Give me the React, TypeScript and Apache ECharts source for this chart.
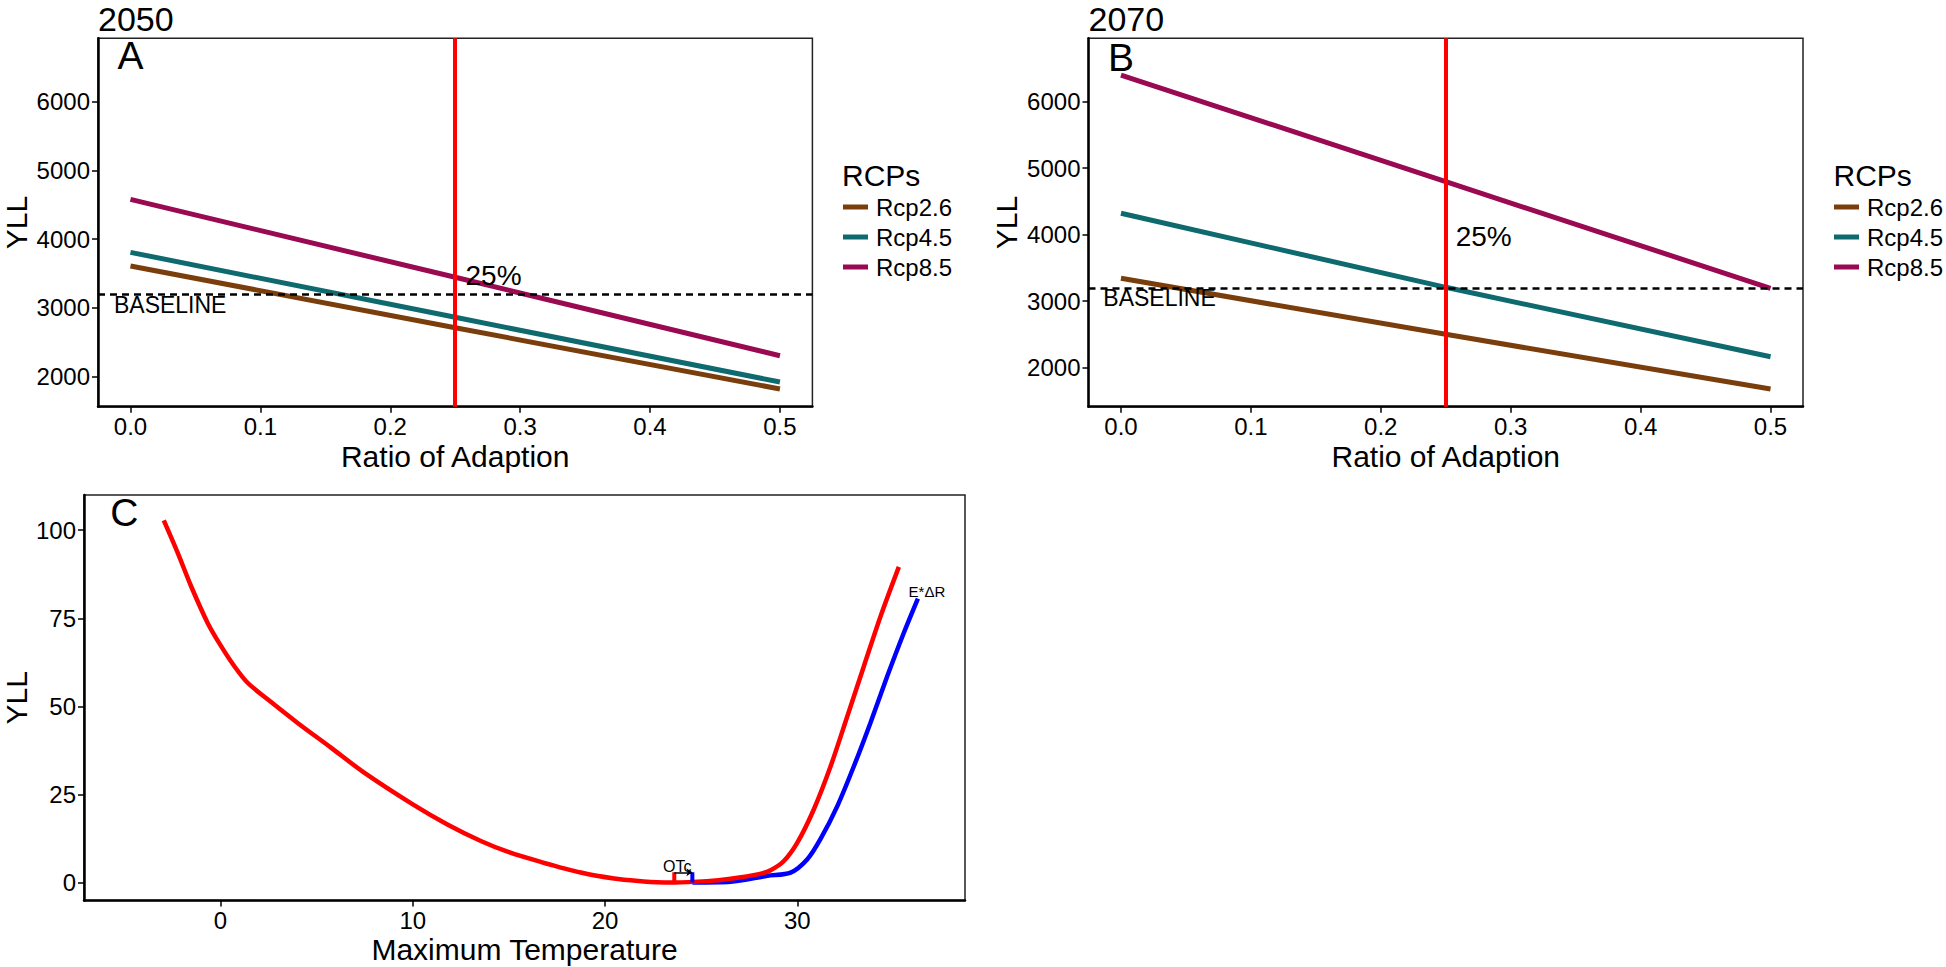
import React, { useEffect, useRef } from "react";
import * as echarts from "echarts";

const FONT = "'Liberation Sans', Arial, Helvetica, sans-serif";

// ---- Panels A / B data ----
const rcpNames = ["Rcp2.6", "Rcp4.5", "Rcp8.5"];
const rcpColors = ["#7A3E0C", "#0E6A6E", "#990A52"];
const adaptionRatio = [0, 0.25, 0.5];
const yll2050Rcp26 = [3610, 2713, 1821];
const yll2050Rcp45 = [3809, 2864, 1923];
const yll2050Rcp85 = [4580, 3446, 2305];
const yll2070Rcp26 = [3344, 2502, 1680];
const yll2070Rcp45 = [4322, 3209, 2165];
const yll2070Rcp85 = [6401, 4797, 3194];
const adaptionTarget = 0.25;
const baselineYLL = 3200;
const ratioTicks = [0, 0.1, 0.2, 0.3, 0.4, 0.5];
const yllTicksAB = [2000, 3000, 4000, 5000, 6000];
const panelTitles = ["2050", "2070"];

// annotation texts (data coordinates)
const annotTextsA = ["A", "25%", "BASELINE"];
const annotXA = [0, 0.2795, 0.0306];
const annotYA = [6668, 3479, 3043];
const annotTextsB = ["B", "25%", "BASELINE"];
const annotXB = [0, 0.2792, 0.0297];
const annotYB = [6665, 3976, 3044];
const annotSizesAB = [39, 28, 23];

// ---- Panel C data ----
const tempRed = [-2.95, -2.22, -1.53, -0.67, 0.03, 0.72, 1.41, 2.45, 4.01, 5.74, 7.47, 10, 11.8, 13.54, 15.0, 16.66, 18.74, 20.47, 22.0, 22.72, 23.6, 25.3, 26.53, 28.0, 28.61, 29.3, 30.0, 30.86, 31.73, 32.6, 33.46, 34.33, 35.28];
const yllRed = [102.8, 93.5, 84.1, 73.7, 67.1, 61.4, 56.7, 52.0, 45.3, 38.3, 31.2, 22.2, 16.5, 11.8, 8.6, 5.85, 2.83, 1.13, 0.3, 0.05, 0, 0.4, 1.1, 2.4, 3.5, 6.1, 11.3, 20.8, 33.0, 47.2, 61.4, 75.6, 89.6];
const tempBlue = [24.54, 26.53, 28.44, 29.65, 30.52, 31.2, 32.08, 32.94, 33.8, 34.68, 35.54, 36.27];
const yllBlue = [0, 0.2, 1.9, 2.8, 6.6, 12.3, 21.7, 33.0, 45.3, 58.6, 70.9, 80.6];
const otcRed = 23.6;
const otcBlue = 24.54;
const otcHeight = 2.9;
const tempTicks = [0, 10, 20, 30];
const yllTicksC = [0, 25, 50, 75, 100];
const annotTextsC = ["C", "OTc", "E*ΔR"];
const annotXC = [-5.0, 23.75, 36.74];
const annotYC = [104.9, 4.5, 82.65];
const annotSizesC = [39, 16, 15];

function axisBase(gridIndex: number, name: string, nameGap: number, ticks: number[], fmt: (v: number) => string, min: number, max: number) {
  return {
    gridIndex,
    type: "value",
    min,
    max,
    name,
    nameLocation: "middle",
    nameGap,
    nameTextStyle: { fontSize: 30, color: "#000", fontFamily: FONT },
    axisLine: { show: true, onZero: false, lineStyle: { color: "#000", width: 2.5 } },
    axisTick: { show: true, length: 6, customValues: ticks, lineStyle: { color: "#000", width: 1.5 } },
    axisLabel: { show: true, customValues: ticks, formatter: fmt, color: "#000", fontSize: 24, fontFamily: FONT },
    splitLine: { show: false },
  };
}

function annotSeries(idx: number, texts: string[], xs: number[], ys: number[], sizes: number[]) {
  return {
    type: "scatter",
    xAxisIndex: idx,
    yAxisIndex: idx,
    silent: true,
    symbolSize: 0,
    itemStyle: { color: "#000", opacity: 1 },
    label: { show: true, position: "inside", color: "#000", fontFamily: FONT, textBorderWidth: 0, opacity: 1 },
    z: 6,
    data: texts.map((t, i) => ({
      name: t,
      value: [xs[i], ys[i]],
      label: { show: true, position: "inside", formatter: t, fontSize: sizes[i], color: "#000", textBorderWidth: 0, fontFamily: FONT },
    })),
  };
}

export default function App() {
  const ref = useRef<HTMLDivElement>(null);
  useEffect(() => {
    if (!ref.current) return;
    const chart = echarts.init(ref.current, undefined, { renderer: "svg" });
    const fmt1 = (v: number) => v.toFixed(1);
    const fmt0 = (v: number) => String(v);
    const panelData = [
      [yll2050Rcp26, yll2050Rcp45, yll2050Rcp85],
      [yll2070Rcp26, yll2070Rcp45, yll2070Rcp85],
    ];
    const series: any[] = [];
    panelData.forEach((vals, p) => {
      vals.forEach((v, i) => {
        series.push({
          type: "line",
          name: rcpNames[i],
          xAxisIndex: p,
          yAxisIndex: p,
          data: adaptionRatio.map((x, j) => [x, v[j]]),
          showSymbol: false,
          symbol: "none",
          color: rcpColors[i],
          itemStyle: { color: rcpColors[i] },
          lineStyle: { width: 5, color: rcpColors[i] },
          z: 2,
        });
      });
      series.push({
        type: "line",
        xAxisIndex: p,
        yAxisIndex: p,
        data: [],
        silent: true,
        z: 4,
        markLine: {
          silent: true,
          symbol: ["none", "none"],
          label: { show: false },
          data: [
            { yAxis: baselineYLL, lineStyle: { color: "#000", width: 2.5, type: [7, 5] } },
            { xAxis: adaptionTarget, lineStyle: { color: "#FF0000", width: 4, type: "solid" } },
          ],
        },
      });
    });
    series.push(annotSeries(0, annotTextsA, annotXA, annotYA, annotSizesAB));
    series.push(annotSeries(1, annotTextsB, annotXB, annotYB, annotSizesAB));

    // Panel C
    series.push({
      type: "line",
      xAxisIndex: 2,
      yAxisIndex: 2,
      data: tempBlue.map((x, i) => [x, yllBlue[i]]),
      showSymbol: false,
      smooth: 0.3,
      lineStyle: { width: 4.5, color: "#0000FF" },
      z: 2,
    });
    series.push({
      type: "line",
      xAxisIndex: 2,
      yAxisIndex: 2,
      data: tempRed.map((x, i) => [x, yllRed[i]]),
      showSymbol: false,
      smooth: 0.3,
      lineStyle: { width: 4.5, color: "#FF0000" },
      z: 3,
    });
    series.push({
      type: "line",
      xAxisIndex: 2,
      yAxisIndex: 2,
      data: [[otcRed, 0], [otcRed, otcHeight]],
      showSymbol: false,
      lineStyle: { width: 4, color: "#FF0000" },
      z: 4,
    });
    series.push({
      type: "line",
      xAxisIndex: 2,
      yAxisIndex: 2,
      data: [[otcBlue, 0], [otcBlue, otcHeight]],
      showSymbol: false,
      lineStyle: { width: 4, color: "#0000FF" },
      z: 4,
      markLine: {
        silent: true,
        symbol: ["none", "arrow"],
        symbolSize: 6,
        label: { show: false },
        lineStyle: { color: "#000", width: 1.5, type: "solid" },
        data: [[{ coord: [otcRed, otcHeight] }, { coord: [otcBlue, otcHeight] }]],
      },
    });
    series.push(annotSeries(2, annotTextsC, annotXC, annotYC, annotSizesC));

    const legendCommon = {
      orient: "vertical",
      top: 195,
      padding: 0,
      itemWidth: 25,
      itemHeight: 5,
      itemGap: 6,
      icon: "rect",
      selectedMode: false,
      data: rcpNames,
      textStyle: { fontSize: 24, lineHeight: 24, color: "#000", fontFamily: FONT, padding: [0, 0, 0, 3] },
    };

    const gridCommon = { show: true, borderColor: "#222", borderWidth: 1.5, containLabel: false };

    chart.setOption({
      animation: false,
      backgroundColor: "#fff",
      textStyle: { fontFamily: FONT },
      grid: [
        { ...gridCommon, left: 97, top: 38.3, width: 715.4, height: 368.4 },
        { ...gridCommon, left: 1088.5, top: 38.3, width: 714.5, height: 368.4 },
        { ...gridCommon, left: 82.7, top: 495, width: 882.3, height: 405.5 },
      ],
      xAxis: [
        axisBase(0, "Ratio of Adaption", 35, ratioTicks, fmt1, -0.025, 0.525),
        axisBase(1, "Ratio of Adaption", 35, ratioTicks, fmt1, -0.025, 0.525),
        axisBase(2, "Maximum Temperature", 34, tempTicks, fmt0, -7.1, 38.72),
      ],
      yAxis: [
        axisBase(0, "YLL", 67, yllTicksAB, fmt0, 1564, 6922),
        axisBase(1, "YLL", 67, yllTicksAB, fmt0, 1414, 6953),
        axisBase(2, "YLL", 53, yllTicksC, fmt0, -5.1, 110),
      ],
      legend: [
        { ...legendCommon, left: 843 },
        { ...legendCommon, left: 1834 },
      ],
      graphic: [
        { type: "text", x: 98, y: 18.5, style: { text: panelTitles[0], fontSize: 34, fontFamily: FONT, fill: "#000", align: "left", verticalAlign: "middle" } },
        { type: "text", x: 1088.5, y: 18.5, style: { text: panelTitles[1], fontSize: 34, fontFamily: FONT, fill: "#000", align: "left", verticalAlign: "middle" } },
        { type: "text", x: 842, y: 175, style: { text: "RCPs", fontSize: 30, fontFamily: FONT, fill: "#000", align: "left", verticalAlign: "middle" } },
        { type: "text", x: 1833.5, y: 175, style: { text: "RCPs", fontSize: 30, fontFamily: FONT, fill: "#000", align: "left", verticalAlign: "middle" } },
      ],
      series,
    });
    return () => chart.dispose();
  }, []);
  return <div ref={ref} style={{ position: "fixed", left: 0, top: 0, width: 1946, height: 967, background: "#fff" }} />;
}
